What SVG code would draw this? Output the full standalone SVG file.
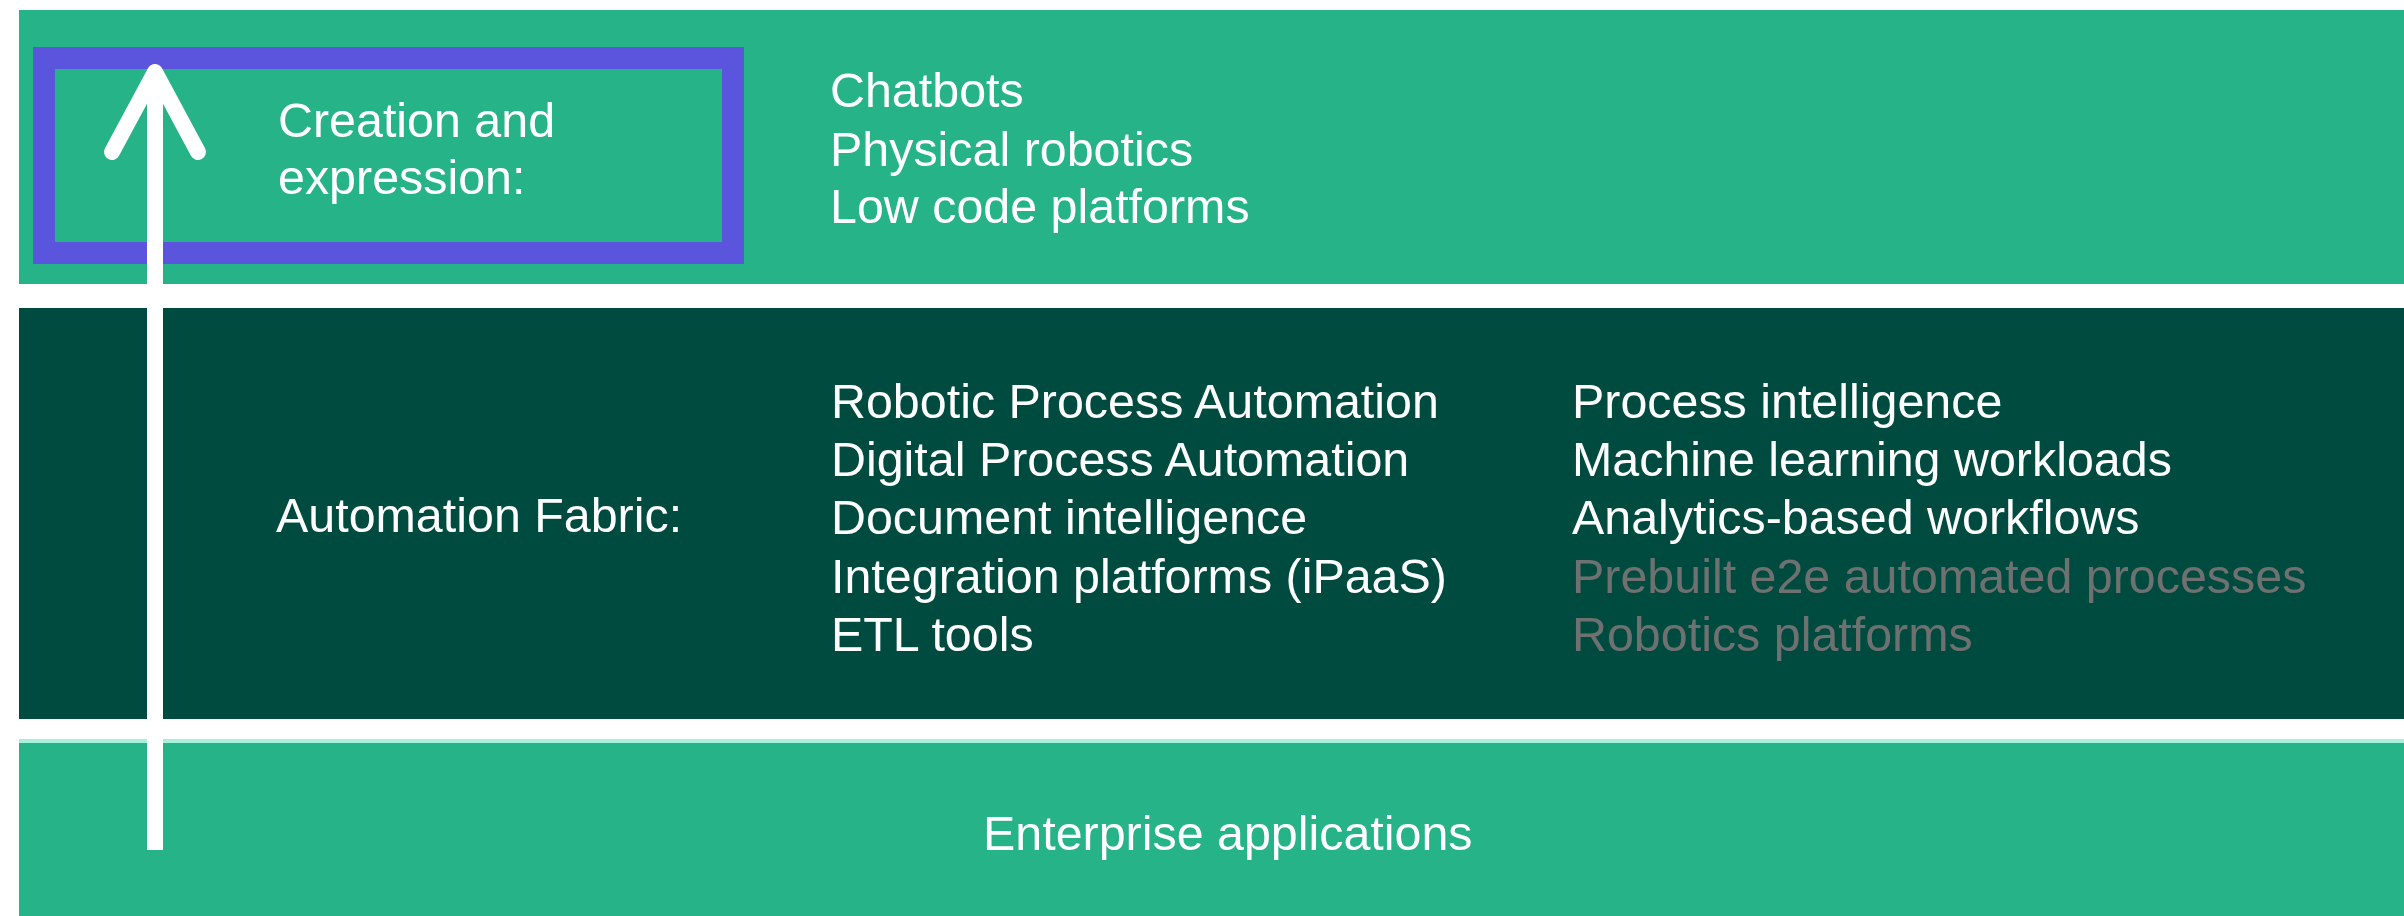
<svg xmlns="http://www.w3.org/2000/svg" width="2404" height="916" viewBox="0 0 2404 916">
<style>
.band-light{fill:#26b388}
.band-dark{fill:#004b40}
.t{font-family:"Liberation Sans",Arial,sans-serif;font-size:48.4px;fill:#ffffff}
.g{fill:#6e716f}
</style>
<rect width="2404" height="916" fill="#ffffff"/>
<g id="creation">
<rect class="band-light" x="19" y="10" width="2385" height="274"/>
<rect x="44" y="58" width="689" height="195" fill="none" stroke="#5a55dc" stroke-width="22"/>
<text class="t" x="278" y="137">Creation and</text>
<text class="t" x="278" y="194">expression:</text>
<text class="t" x="830" y="107">Chatbots</text>
<text class="t" x="830" y="166">Physical robotics</text>
<text class="t" x="830" y="223">Low code platforms</text>
</g>
<g id="fabric">
<rect class="band-dark" x="19" y="308" width="2385" height="411"/>
<text class="t" x="276" y="532">Automation Fabric:</text>
<text class="t" x="831" y="418">Robotic Process Automation</text>
<text class="t" x="831" y="476">Digital Process Automation</text>
<text class="t" x="831" y="534">Document intelligence</text>
<text class="t" x="831" y="593">Integration platforms (iPaaS)</text>
<text class="t" x="831" y="651">ETL tools</text>
<text class="t" x="1572" y="418">Process intelligence</text>
<text class="t" x="1572" y="476">Machine learning workloads</text>
<text class="t" x="1572" y="534">Analytics-based workflows</text>
<text class="t g" x="1572" y="593">Prebuilt e2e automated processes</text>
<text class="t g" x="1572" y="651">Robotics platforms</text>
</g>
<g id="enterprise">
<rect class="band-light" x="19" y="739" width="2385" height="177"/>
<rect x="19" y="739" width="2385" height="4" fill="#a6f0dc"/>
<text class="t" x="983" y="850">Enterprise applications</text>
</g>
<g id="connectors" stroke="#ffffff" stroke-width="16" fill="none" stroke-linecap="round" stroke-linejoin="round">
<line x1="155" y1="850" x2="155" y2="74" stroke-linecap="butt"/>
<polyline points="112,152 155,72 198,152"/>
</g>
</svg>
